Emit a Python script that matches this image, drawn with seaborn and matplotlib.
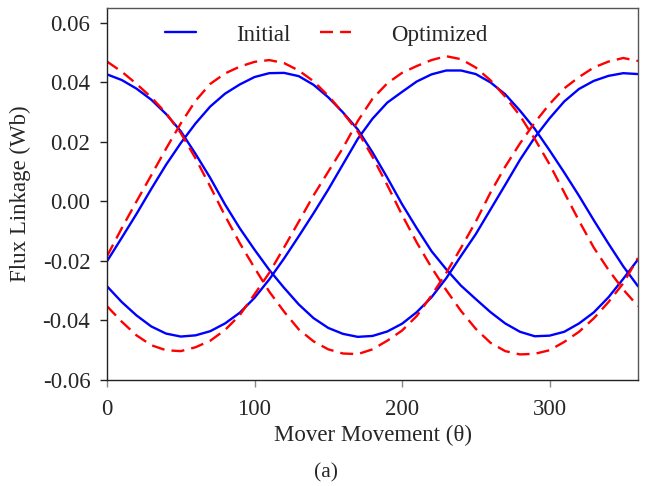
import numpy as np
import pandas as pd
import matplotlib
matplotlib.use("Agg")
import matplotlib.pyplot as plt
import seaborn as sns
from matplotlib.lines import Line2D

# Mover position (degrees)
theta = list(range(0, 361, 10))

# Flux linkage of the three phases, initial design (Wb)
initial_a = [0.0427, 0.0408, 0.0379, 0.0342, 0.0294, 0.0236, 0.0160, 0.0079, -0.0010, -0.0090,
             -0.0162, -0.0230, -0.0290, -0.0346, -0.0392, -0.0425, -0.0445, -0.0455, -0.0452, -0.0437,
             -0.0411, -0.0372, -0.0322, -0.0258, -0.0183, -0.0110, -0.0027, 0.0056, 0.0140, 0.0215,
             0.0279, 0.0336, 0.0378, 0.0405, 0.0422, 0.0431, 0.0428]
initial_b = [-0.0201, -0.0122, -0.0042, 0.0042, 0.0123, 0.0196, 0.0262, 0.0319, 0.0362, 0.0393,
             0.0418, 0.0431, 0.0432, 0.0421, 0.0392, 0.0350, 0.0299, 0.0242, 0.0165, 0.0080,
             -0.0009, -0.0090, -0.0167, -0.0228, -0.0283, -0.0328, -0.0372, -0.0410, -0.0438, -0.0453,
             -0.0451, -0.0438, -0.0410, -0.0373, -0.0322, -0.0260, -0.0195]
initial_c = [-0.0285, -0.0338, -0.0383, -0.0420, -0.0444, -0.0454, -0.0450, -0.0436, -0.0410, -0.0374,
             -0.0324, -0.0262, -0.0192, -0.0117, -0.0040, 0.0040, 0.0125, 0.0210, 0.0278, 0.0332,
             0.0368, 0.0403, 0.0427, 0.0440, 0.0440, 0.0428, 0.0400, 0.0360, 0.0305, 0.0244,
             0.0172, 0.0097, 0.0019, -0.0063, -0.0142, -0.0218, -0.0285]

# Flux linkage of the three phases, optimized design (Wb)
optimized_a = [0.0470, 0.0436, 0.0395, 0.0350, 0.0297, 0.0230, 0.0145, 0.0050, -0.0048, -0.0140,
               -0.0223, -0.0303, -0.0370, -0.0430, -0.0470, -0.0497, -0.0511, -0.0513, -0.0497, -0.0468,
               -0.0434, -0.0385, -0.0316, -0.0240, -0.0156, -0.0068, 0.0030, 0.0117, 0.0195, 0.0265,
               0.0327, 0.0380, 0.0418, 0.0450, 0.0470, 0.0482, 0.0472]
optimized_b = [-0.0184, -0.0090, 0.0000, 0.0088, 0.0177, 0.0262, 0.0338, 0.0395, 0.0430, 0.0453,
               0.0469, 0.0475, 0.0465, 0.0440, 0.0404, 0.0355, 0.0298, 0.0235, 0.0150, 0.0055,
               -0.0045, -0.0138, -0.0222, -0.0298, -0.0368, -0.0428, -0.0475, -0.0503, -0.0514, -0.0512,
               -0.0500, -0.0472, -0.0438, -0.0393, -0.0338, -0.0275, -0.0190]
optimized_c = [-0.0352, -0.0404, -0.0450, -0.0483, -0.0500, -0.0503, -0.0490, -0.0468, -0.0432, -0.0382,
               -0.0312, -0.0240, -0.0155, -0.0068, 0.0020, 0.0100, 0.0180, 0.0270, 0.0345, 0.0397,
               0.0432, 0.0455, 0.0475, 0.0488, 0.0478, 0.0450, 0.0407, 0.0352, 0.0288, 0.0210,
               0.0125, 0.0030, -0.0065, -0.0155, -0.0230, -0.0296, -0.0352]

designs = ["Initial", "Optimized"]
colors = {"Initial": "#0000ff", "Optimized": "#ff0000"}

frames = []
for design, phases in (("Initial", [initial_a, initial_b, initial_c]),
                       ("Optimized", [optimized_a, optimized_b, optimized_c])):
    for name, vals in zip("ABC", phases):
        frames.append(pd.DataFrame({"theta": theta, "flux": vals,
                                    "design": design, "phase": name}))
df = pd.concat(frames, ignore_index=True)

sns.set_style("ticks")
plt.rcParams["font.family"] = ["Liberation Serif", "DejaVu Serif"]

FS = 16.5

fig = plt.figure(figsize=(6.46, 4.86), dpi=100)
ax = fig.add_axes([107 / 646, 1 - 380 / 486, (638 - 107) / 646, (380 - 8) / 486])

sns.lineplot(data=df[df.design == "Initial"], x="theta", y="flux", units="phase",
             estimator=None, color=colors["Initial"], lw=1.7, ax=ax, legend=False)
sns.lineplot(data=df[df.design == "Optimized"], x="theta", y="flux", units="phase",
             estimator=None, color=colors["Optimized"], lw=1.7, ax=ax, legend=False)
for line in ax.lines[3:]:
    line.set_dashes((5.5, 3))

ax.set_xlim(0, 360)
ax.set_ylim(-0.06, 0.065)
ax.set_xticks([0, 100, 200, 300])
ax.set_yticks([-0.06, -0.04, -0.02, 0.0, 0.02, 0.04, 0.06])
ax.set_yticklabels([f"{v:.2f}" for v in ax.get_yticks()])
ax.tick_params(axis="y", direction="out", length=5, width=1, color="#222222",
               labelsize=FS, pad=7)
ax.tick_params(axis="x", direction="out", length=5, width=1, color="#888888",
               labelsize=FS, pad=9)
for side in ax.spines.values():
    side.set_linewidth(1.0)
    side.set_color("#222222")
ax.spines["top"].set_color("#555555")
ax.spines["right"].set_color("#555555")

ax.set_xlabel("Mover Movement (θ)", fontsize=FS, labelpad=3)
ax.set_ylabel("Flux Linkage (Wb)", fontsize=FS, labelpad=8)

handles = [Line2D([], [], color=colors["Initial"], lw=1.7),
           Line2D([], [], color=colors["Optimized"], lw=1.7, dashes=(5.5, 3))]
fig.legend(handles, designs, loc="center", bbox_to_anchor=(326 / 646, 1 - 35 / 486),
           ncol=2, frameon=False, fontsize=FS, handlelength=1.35, handletextpad=1.75,
           columnspacing=1.3)

fig.text(326 / 646, 1 - 473 / 486, "(a)", ha="center", va="center", fontsize=15.5)

fig.savefig("out.png", dpi=100)
